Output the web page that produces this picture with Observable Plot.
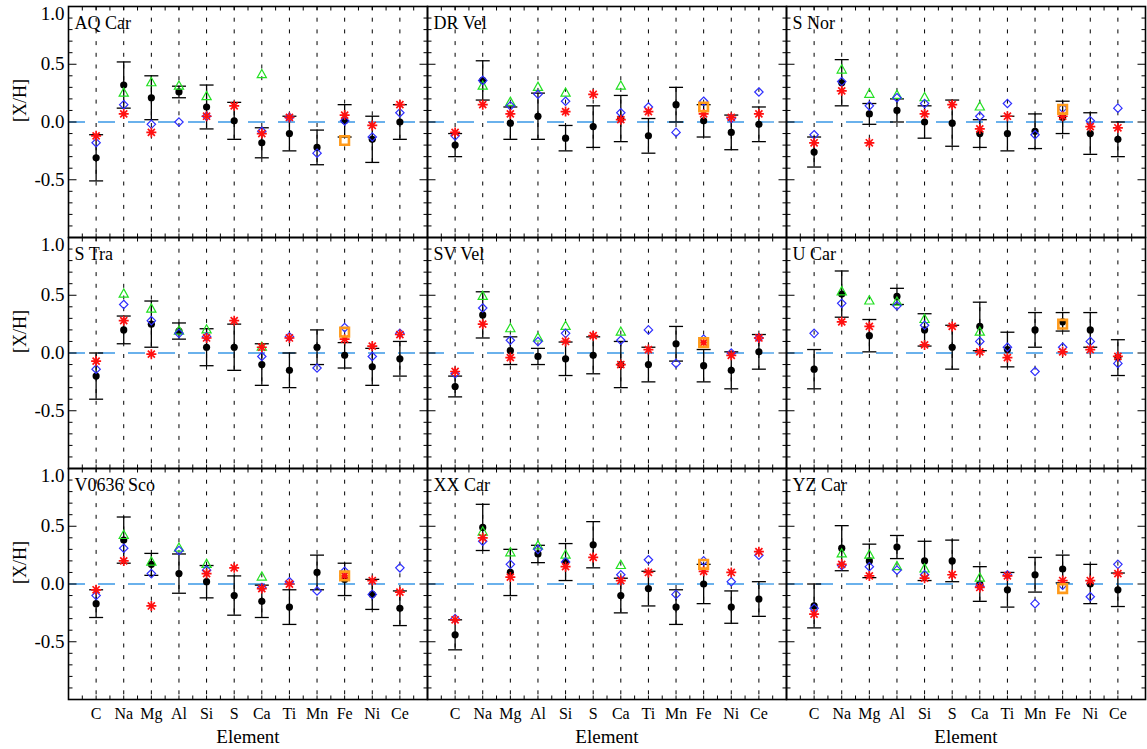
<!DOCTYPE html>
<html><head><meta charset="utf-8">
<script src="https://cdn.jsdelivr.net/npm/d3@7"></script>
<script src="https://cdn.jsdelivr.net/npm/@observablehq/plot@0.6"></script>
<style>html,body{margin:0;padding:0;background:#fff;font-family:'Liberation Serif','Times New Roman',serif;}
#chart svg, #chart svg text {font-family:'Liberation Serif','Times New Roman',serif;}</style>
</head><body><div id="chart"></div>
<script>
// ---------- data ----------
const elements = ["C","Na","Mg","Al","Si","S","Ca","Ti","Mn","Fe","Ni","Ce"];
const stars = ["AQ Car","DR Vel","S Nor","S Tra","SV Vel","U Car","V0636 Sco","XX Car","YZ Car"];

// black filled circles (with error bars)
const blackVal = [
  [-0.31, 0.32, 0.21, 0.26, 0.13, 0.01,-0.18,-0.10,-0.22, 0.01,-0.15, 0.00],
  [-0.20, 0.36,-0.01, 0.05,-0.14,-0.04, 0.03,-0.12, 0.15, 0.01,-0.09,-0.02],
  [-0.26, 0.34, 0.07, 0.10, 0.00,-0.01,-0.10,-0.10,-0.08, 0.04,-0.10,-0.15],
  [-0.20, 0.20, 0.25, 0.19, 0.05, 0.05,-0.10,-0.15, 0.05,-0.02,-0.12,-0.05],
  [-0.29, 0.33, 0.02,-0.03,-0.05,-0.02,-0.10,-0.10, 0.08,-0.11,-0.15, 0.01],
  [-0.14, 0.51, 0.15, 0.49, 0.20, 0.05, 0.23, 0.03, 0.20, 0.27, 0.20,-0.04],
  [-0.17, 0.38, 0.17, 0.09, 0.02,-0.10,-0.15,-0.20, 0.10, 0.04,-0.09,-0.21],
  [-0.44, 0.49, 0.10, 0.26, 0.19, 0.34,-0.10,-0.04,-0.20, 0.00,-0.20,-0.13],
  [-0.19, 0.31, 0.20, 0.32, 0.20, 0.20, 0.00,-0.05, 0.08, 0.13, 0.00,-0.05]
];
const blackErr = [
  [0.20, 0.20, 0.19, 0.05, 0.19, 0.16, 0.13, 0.15, 0.15, 0.14, 0.20, 0.15],
  [0.10, 0.17, 0.14, 0.20, 0.11, 0.18, 0.20, 0.15, 0.15, 0.14, 0.15, 0.15],
  [0.13, 0.20, 0.09, 0.10, 0.14, 0.20, 0.12, 0.15, 0.15, 0.14, 0.18, 0.15],
  [0.20, 0.12, 0.20, 0.07, 0.16, 0.20, 0.18, 0.15, 0.15, 0.11, 0.16, 0.15],
  [0.09, 0.20, 0.12, 0.07, 0.145,0.16, 0.20, 0.15, 0.15, 0.14, 0.16, 0.15],
  [0.17, 0.20, 0.14, 0.07, 0.14, 0.19, 0.21, 0.15, 0.15, 0.08, 0.15, 0.155],
  [0.12, 0.20, 0.095,0.17, 0.14, 0.17, 0.14, 0.15, 0.15, 0.14, 0.13, 0.15],
  [0.13, 0.20, 0.20, 0.075,0.16, 0.20, 0.15, 0.15, 0.15, 0.17, 0.14, 0.15],
  [0.19, 0.195,0.145,0.10, 0.17, 0.18, 0.15, 0.15, 0.15, 0.12, 0.17, 0.145]
];
// green open triangles
const greenVal = [
  [null, 0.25, 0.34, 0.31, 0.22, null, 0.41, null, null, null, null, null],
  [null, 0.31, 0.17, 0.30, 0.25, null, 0.31, null, null, null, null, null],
  [null, 0.45, 0.24, 0.23, 0.21, null, 0.13, null, null, null, null, null],
  [null, 0.51, 0.38, 0.19, 0.20, null, 0.05, null, null, null, null, null],
  [null, 0.49, 0.21, 0.13, 0.23, null, 0.18, null, null, null, null, null],
  [null, 0.53, 0.45, 0.44, 0.29, null, 0.18, null, null, null, null, null],
  [null, 0.42, 0.19, 0.31, 0.17, null, 0.06, null, null, null, null, null],
  [null, 0.45, 0.27, 0.33, 0.25, null, 0.16, null, null, null, null, null],
  [null, 0.26, 0.25, 0.15, 0.13, null, 0.05, null, null, null, null, null]
];
// blue open diamonds
const blueVal = [
  [-0.18, 0.15,-0.02, 0.00, 0.05, null,-0.08, 0.04,-0.27, 0.01,-0.13, 0.08],
  [-0.12, 0.36, 0.14, 0.24, 0.18, null, 0.08, 0.13,-0.09, 0.18, 0.03, 0.26],
  [-0.11, 0.35, 0.14, 0.21, 0.16, null, 0.05, 0.16,-0.11, 0.12, 0.01, 0.12],
  [-0.14, 0.42, 0.28, 0.17, 0.14, null,-0.03, 0.14,-0.13, 0.22,-0.03, 0.17],
  [-0.18, 0.39, 0.11, 0.10, 0.17, null, 0.11, 0.20,-0.09, 0.12, 0.00, 0.13],
  [ 0.17, 0.43, null, 0.41, 0.24, null, 0.10, 0.05,-0.16, 0.05, 0.10,-0.09],
  [-0.10, 0.31, 0.09, 0.29, 0.12, null,-0.03, 0.02,-0.06, 0.11,-0.09, 0.14],
  [-0.30, 0.37, 0.17, 0.30, 0.19, null, 0.08, 0.21,-0.09, 0.20, 0.02, 0.25],
  [-0.21, 0.16, 0.15, 0.12, 0.08, null,-0.02, 0.08,-0.17,-0.01,-0.11, 0.17]
];
// red asterisks
const redVal = [
  [-0.12, 0.07,-0.09, null, 0.05, 0.14,-0.10, 0.04, null, 0.06,-0.03, 0.15],
  [-0.09, 0.15, 0.07, null, 0.09, 0.24, 0.02, 0.09, null, 0.07, 0.04, 0.07],
  [-0.18, 0.27,-0.18, null, 0.07, 0.15,-0.06, 0.05, null, 0.05,-0.04,-0.05],
  [-0.07, 0.28,-0.01, null, 0.13, 0.28, 0.05, 0.13, null, 0.12, 0.06, 0.16],
  [-0.16, 0.25,-0.04, null, 0.10, 0.15,-0.10, 0.03, null, 0.09,-0.02, 0.13],
  [ null, 0.27, 0.23, null, 0.07, 0.23, 0.01,-0.04, null, 0.01, 0.03,-0.03],
  [-0.05, 0.20,-0.19, null, 0.09, 0.14,-0.04, 0.00, null, 0.07, 0.03,-0.07],
  [-0.31, 0.40, 0.06, null, 0.15, 0.23, 0.03, 0.10, null, 0.11, 0.10, 0.28],
  [-0.26, 0.17, 0.07, null, 0.05, 0.08,-0.03, 0.07, null, 0.03, 0.03, 0.09]
];
// orange open squares (Fe only)
const orangeFe = [-0.16, 0.13, 0.11, 0.18, 0.09, 0.25, 0.07, 0.17, -0.04];

const yLabelTicks = [-0.5, 0, 0.5];
const yTopLabel = [1.0];
const yMajor = [-0.5, 0, 0.5];
const yMinor = [-0.9,-0.8,-0.7,-0.6,-0.4,-0.3,-0.2,-0.1,0.1,0.2,0.3,0.4,0.6,0.7,0.8,0.9];

// ---------- table ----------
const rows = [];
stars.forEach((star, s) => {
  elements.forEach((el, i) => {
    rows.push({
      star, col: s % 3, row: Math.floor(s / 3), x: i + 1, el,
      black: blackVal[s][i], lo: blackVal[s][i] - blackErr[s][i], hi: blackVal[s][i] + blackErr[s][i],
      green: greenVal[s][i], blue: blueVal[s][i], red: redVal[s][i],
      orange: el === "Fe" ? orangeFe[s] : null
    });
  });
});
const starTable = stars.map((name, s) => ({name, col: s % 3, row: Math.floor(s / 3)}));
const xPos = elements.map((e, i) => i + 1);
const xHalf = d3.range(1, 2 * elements.length + 2).map(k => k / 2);

// ---------- symbols ----------
const hLine = (a, b) => ({draw(ctx) { ctx.moveTo(a, 0); ctx.lineTo(b, 0); }});
const vLine = (a, b) => ({draw(ctx) { ctx.moveTo(0, a); ctx.lineTo(0, b); }});
const asterisk = {draw(ctx) {
  const r = 5;
  for (let k = 0; k < 4; k++) {
    const a = k * Math.PI / 4;
    ctx.moveTo(r * Math.cos(a), r * Math.sin(a));
    ctx.lineTo(-r * Math.cos(a), -r * Math.sin(a));
  }
}};
const diamond = {draw(ctx) { const r = 4.2; ctx.moveTo(0,-r); ctx.lineTo(r,0); ctx.lineTo(0,r); ctx.lineTo(-r,0); ctx.closePath(); }};
const triangle = {draw(ctx) { ctx.moveTo(0,-5.2); ctx.lineTo(4.6,3); ctx.lineTo(-4.6,3); ctx.closePath(); }};
const square = {draw(ctx) { const r = 4.3; ctx.moveTo(-r,-r); ctx.lineTo(r,-r); ctx.lineTo(r,r); ctx.lineTo(-r,r); ctx.closePath(); }};

const F = {fx: "col", fy: "row"};
const serif = "'Liberation Serif','Times New Roman',serif";

const chart = Plot.plot({
  width: 1147, height: 749,
  marginLeft: 67, marginRight: 2, marginTop: 5, marginBottom: 49,
  style: `font-family: ${serif}; background: white; color: black; overflow: visible;`,
  fx: {domain: [0, 1, 2], padding: 0, axis: null},
  fy: {domain: [0, 1, 2], padding: 0, axis: null},
  x: {domain: [0, elements.length + 1], label: null},
  y: {domain: [-1, 1], label: null},
  marks: [
    // vertical dotted guides at each element
    Plot.ruleX(xPos, {stroke: "black", strokeWidth: 1, strokeDasharray: "4,7.7"}),
    // zero line
    Plot.ruleY([0], {stroke: "#3a98e6", strokeWidth: 1.3, strokeDasharray: "17,13"}),
    // error bars
    Plot.ruleX(rows, {...F, x: "x", y1: "lo", y2: "hi", stroke: "black", strokeWidth: 1.3}),
    Plot.dot(rows, {...F, x: "x", y: "lo", symbol: hLine(-7, 7), stroke: "black", fill: "none", strokeWidth: 1.3}),
    Plot.dot(rows, {...F, x: "x", y: "hi", symbol: hLine(-7, 7), stroke: "black", fill: "none", strokeWidth: 1.3}),
    Plot.dot(rows, {...F, x: "x", y: "black", r: 3.6, fill: "black", stroke: "none"}),
    Plot.dot(rows, {...F, x: "x", y: "green", symbol: triangle, stroke: "#22e022", fill: "none", strokeWidth: 1.2}),
    Plot.dot(rows, {...F, x: "x", y: "blue", symbol: diamond, stroke: "#2f2fff", fill: "none", strokeWidth: 1.2}),
    Plot.dot(rows, {...F, x: "x", y: "red", symbol: asterisk, stroke: "#ff1010", fill: "none", strokeWidth: 1.7}),
    Plot.dot(rows, {...F, x: "x", y: "orange", symbol: square, stroke: "#ff9a1a", fill: "none", strokeWidth: 2.6}),
    // frames
    Plot.frame({stroke: "black", strokeWidth: 1.6}),
    // inner ticks
    Plot.dot(yMinor, {y: d => d, frameAnchor: "left", symbol: hLine(0, 4), stroke: "black", fill: "none", strokeWidth: 1}),
    Plot.dot(yMajor, {y: d => d, frameAnchor: "left", symbol: hLine(0, 8), stroke: "black", fill: "none", strokeWidth: 1}),
    Plot.dot(yMinor, {y: d => d, frameAnchor: "right", symbol: hLine(-4, 0), stroke: "black", fill: "none", strokeWidth: 1}),
    Plot.dot(yMajor, {y: d => d, frameAnchor: "right", symbol: hLine(-8, 0), stroke: "black", fill: "none", strokeWidth: 1}),
    Plot.dot(xHalf, {x: d => d, frameAnchor: "top", symbol: vLine(0, 4), stroke: "black", fill: "none", strokeWidth: 1}),
    Plot.dot(xHalf, {x: d => d, frameAnchor: "bottom", symbol: vLine(-4, 0), stroke: "black", fill: "none", strokeWidth: 1}),
    // panel titles
    Plot.text(starTable, {fx: "col", fy: "row", text: "name", frameAnchor: "top-left", textAnchor: "start", lineAnchor: "top", dx: 6, dy: 10, fontSize: 18, fill: "black", fontFamily: serif}),
    // axes
    Plot.axisY(yLabelTicks, {anchor: "left", tickSize: 0, tickPadding: 4, tickFormat: d => d.toFixed(1), fontSize: 19, fontFamily: serif, label: null}),
    Plot.axisY(yTopLabel, {anchor: "left", tickSize: 0, tickPadding: 4, tickFormat: d => d.toFixed(1), fontSize: 19, fontFamily: serif, dy: 7, label: null}),
    Plot.axisX(xPos, {anchor: "bottom", tickSize: 0, tickPadding: 8, tickFormat: d => elements[d - 1], fontSize: 16, fontFamily: serif, label: null}),
    Plot.text(["Element"], {text: d => d, frameAnchor: "bottom", facetAnchor: "bottom", dy: 37, lineAnchor: "middle", fontSize: 19, fontFamily: serif, fill: "black"}),
    Plot.text(["[X/H]"], {text: d => d, frameAnchor: "left", facetAnchor: "left", dx: -48, rotate: -90, lineAnchor: "middle", fontSize: 18, fontFamily: serif, fill: "black"})
  ]
});
document.getElementById("chart").appendChild(chart);
</script>
</body></html>
